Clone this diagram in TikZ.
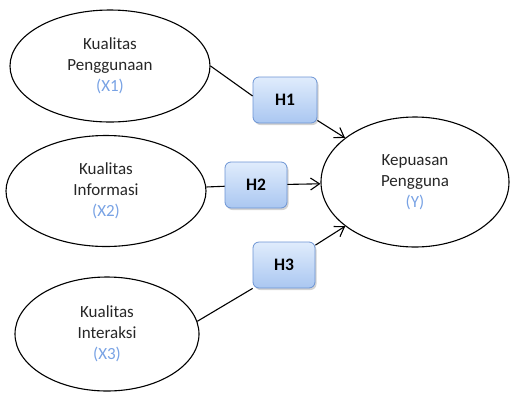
\documentclass[tikz,border=0pt]{standalone}
\usepackage{fontspec}
\setmainfont{Carlito}
\usepackage{tikz}
\usetikzlibrary{shapes, arrows.meta, shadows}
\definecolor{varblue}{RGB}{120,162,228}
\definecolor{hborder}{RGB}{108,148,212}
\definecolor{htop}{RGB}{224,236,252}
\definecolor{hbottom}{RGB}{170,199,241}
\tikzstyle{var}=[draw, ellipse, line width=1.1pt, inner sep=0pt, align=center, text=black!85]
\tikzstyle{hyp}=[draw=hborder, line width=0.8pt, rectangle, rounded corners=6pt, top color=htop, bottom color=hbottom, minimum width=62pt, minimum height=46pt, font=\fontsize{17.5}{21}\selectfont\bfseries, drop shadow={shadow xshift=1.5pt, shadow yshift=-2pt, opacity=0.35}]
\tikzstyle{every node}=[font=\fontsize{17}{21}\selectfont]
\newcommand{\vid}[1]{{\color{varblue}(#1)}}

\begin{document}
\begin{tikzpicture}[x=1pt, y=-1pt, >={Straight Barb[length=9pt, width=12pt]}, line width=1.1pt]
    \useasboundingbox (0,0) rectangle (512,392);
    \node[var, minimum width=200pt, minimum height=112pt] (x1) at (110,66) {Kualitas\\Penggunaan\\\vid{X1}};
    \node[var, minimum width=200pt, minimum height=111pt] (x2) at (106,191) {Kualitas\\Informasi\\\vid{X2}};
    \node[var, minimum width=184pt, minimum height=114pt] (x3) at (107,334) {Kualitas\\Interaksi\\\vid{X3}};
    \node[var, minimum width=188pt, minimum height=130pt] (y) at (415,182) {Kepuasan\\Pengguna\\\vid{Y}};
    \node[hyp, minimum width=64pt] (h1) at (285,100) {H1};
    \node[hyp] (h2) at (256,185) {H2};
    \node[hyp] (h3) at (284,265) {H3};
    \draw (x1.east) -- ([yshift=4pt]h1.west);
    \draw[->] (h1) -- (y);
    \draw (x2) -- (h2);
    \draw[->] (h2) -- (y);
    \draw (x3.8) -- (h3.south west);
    \draw[->] (h3) -- (y);
\end{tikzpicture}
\end{document}
